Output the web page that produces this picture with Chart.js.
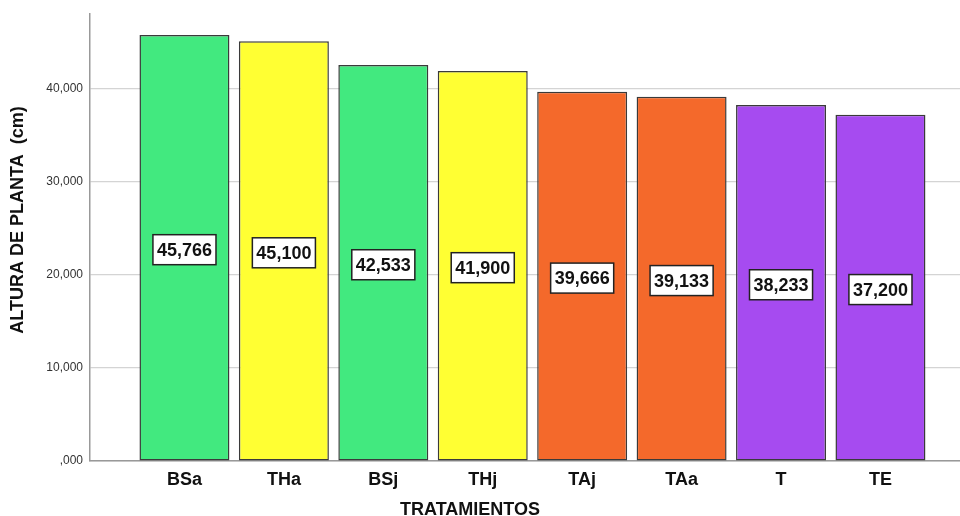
<!DOCTYPE html>
<html>
<head>
<meta charset="utf-8">
<script src="https://cdn.jsdelivr.net/npm/chart.js@4/dist/chart.umd.min.js"></script>
<style>
  html, body { margin: 0; padding: 0; background: #fff; }
  #wrap { width: 960px; height: 516px; position: relative; }
</style>
</head>
<body>
<div id="wrap"><canvas id="c" width="960" height="516"></canvas></div>
<script>
// Plant height per treatment (cm)
const tratamientos = ['BSa', 'THa', 'BSj', 'THj', 'TAj', 'TAa', 'T', 'TE'];
const altura = [45.766, 45.100, 42.533, 41.900, 39.666, 39.133, 38.233, 37.200];
const colores = ['#42E97F', '#FFFF33', '#42E97F', '#FFFF33', '#F4692B', '#F4692B', '#A64BF0', '#A64BF0'];
const yTicks = [0, 10, 20, 30, 40];

const FONT = '"Liberation Sans", Arial, sans-serif';

// SPSS-style number format: comma decimal, 3 decimals, no leading zero
function fmt(v) {
  let s = v.toFixed(3).replace('.', ',');
  if (s.startsWith('0,')) s = s.slice(1);
  return s;
}

// Boxed value labels at the middle of each bar
const valueBoxes = {
  id: 'valueBoxes',
  afterDatasetsDraw(chart) {
    const ctx = chart.ctx;
    const meta = chart.getDatasetMeta(0);
    ctx.save();
    ctx.font = 'bold 18px ' + FONT;
    ctx.textAlign = 'center';
    ctx.textBaseline = 'middle';
    meta.data.forEach((bar, i) => {
      const txt = fmt(altura[i]);
      const cx = bar.x;
      const cy = (bar.y + bar.base) / 2 + 2;
      const w = ctx.measureText(txt).width + 8;
      const h = 30;
      ctx.fillStyle = '#ffffff';
      ctx.fillRect(cx - w / 2, cy - h / 2, w, h);
      ctx.strokeStyle = '#222';
      ctx.lineWidth = 1.5;
      ctx.strokeRect(cx - w / 2, cy - h / 2, w, h);
      ctx.fillStyle = '#111';
      ctx.fillText(txt, cx, cy + 1);
    });
    ctx.restore();
  }
};

// Axis titles
const axisTitles = {
  id: 'axisTitles',
  afterDraw(chart) {
    const ctx = chart.ctx;
    ctx.save();
    ctx.fillStyle = '#111';
    ctx.font = 'bold 18px ' + FONT;
    ctx.textAlign = 'center';
    ctx.textBaseline = 'middle';
    ctx.fillText('TRATAMIENTOS', 470, 510);
    ctx.translate(18, 220);
    ctx.rotate(-Math.PI / 2);
    ctx.fillText('ALTURA DE PLANTA  (cm)', 0, 0);
    ctx.restore();
  }
};

new Chart(document.getElementById('c'), {
  type: 'bar',
  data: {
    datasets: [{
      data: altura.map((v, i) => ({ x: i, y: v })),
      backgroundColor: colores,
      borderColor: '#3a3a3a',
      borderWidth: 1.5,
      borderSkipped: false,
      categoryPercentage: 1,
      barPercentage: 0.905
    }]
  },
  options: {
    responsive: false,
    animation: false,
    devicePixelRatio: 1,
    layout: { padding: { top: 14, right: 0, bottom: 0, left: 0 } },
    plugins: {
      legend: { display: false },
      tooltip: { enabled: false }
    },
    scales: {
      x: {
        type: 'linear',
        offset: false,
        min: -0.95,
        max: 7.8,
        afterBuildTicks(scale) {
          scale.ticks = tratamientos.map((_, i) => ({ value: i }));
        },
        afterFit(scale) { scale.height = 55; },
        grid: { display: false, drawTicks: false, offset: false },
        border: { display: true, color: '#999', width: 1.5 },
        ticks: {
          autoSkip: false,
          maxRotation: 0,
          padding: 8,
          color: '#111',
          font: { family: FONT, size: 18, weight: 'bold' },
          callback: (v) => tratamientos[v] ?? ''
        }
      },
      y: {
        min: 0,
        max: 48,
        afterBuildTicks(scale) {
          scale.ticks = yTicks.map(v => ({ value: v }));
        },
        afterFit(scale) { scale.width = 90; },
        grid: { color: '#d4d4d4', lineWidth: 1.2, drawTicks: false },
        border: { display: true, color: '#999', width: 1.5 },
        ticks: {
          padding: 7,
          color: '#333',
          font: { family: FONT, size: 12 },
          callback: (v) => fmt(v)
        }
      }
    }
  },
  plugins: [valueBoxes, axisTitles]
});
</script>
</body>
</html>
